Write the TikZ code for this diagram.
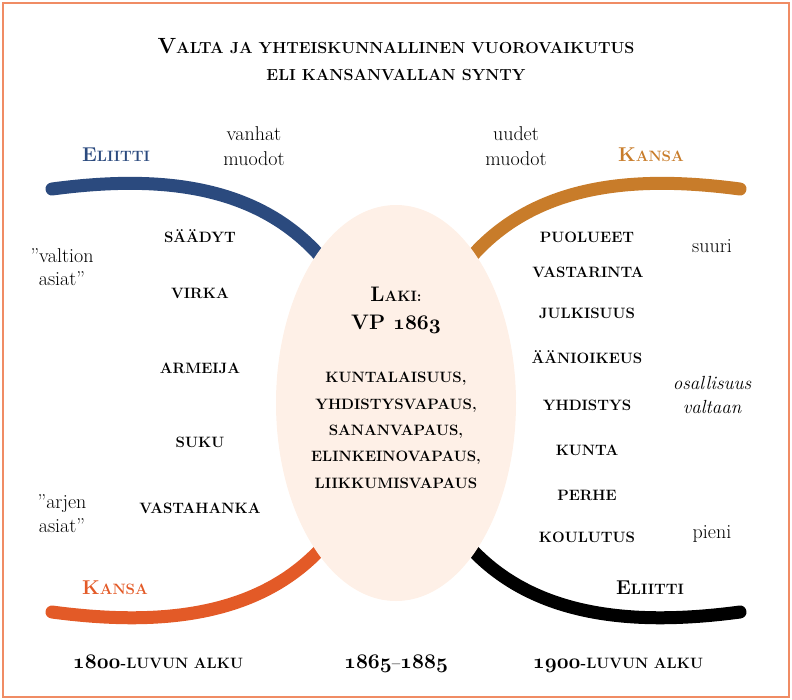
\documentclass[tikz,border=0pt]{standalone}
\usepackage{fontspec}
\usetikzlibrary{shapes.geometric, backgrounds, calc}

\definecolor{FrameColor}{RGB}{240,140,100}
\definecolor{EliittiBlue}{RGB}{43,74,126}
\definecolor{KansaOchre}{RGB}{200,124,42}
\definecolor{KansaRed}{RGB}{227,90,39}
\definecolor{LakiFill}{RGB}{254,240,231}

% fake bold small caps: capitals at the current size, spaced out
\newcommand\fakesc[1]{{\addfontfeature{LetterSpace=6}\MakeUppercase{#1}}}
\newcommand\initcap[3]{{\fontsize{#1}{#1}\selectfont\addfontfeature{LetterSpace=6}#2}\fakesc{#3}}
% bold old style figures
\newcommand\osnum[2]{{\fontsize{#1}{#1}\usefont{OML}{cmm}{b}{it}#2}}

\begin{document}
\begin{tikzpicture}[x = 1pt, y = -1pt]
\tikzstyle{TitleStyle}=[
anchor = base,
inner sep = 0pt,
font = \bfseries\fontsize{16}{19}\selectfont]
\tikzstyle{ItemStyle}=[
anchor = base,
inner sep = 0pt,
font = \bfseries\fontsize{15}{18}\selectfont]
\tikzstyle{GroupStyle}=[
anchor = base,
inner sep = 0pt,
font = \bfseries\fontsize{15}{18}\selectfont]
\tikzstyle{NoteStyle}=[
anchor = base,
inner sep = 0pt,
font = \fontsize{20}{24}\selectfont]
\tikzstyle{ArcStyle}=[
line width = 13pt,
line cap = round]

\useasboundingbox (0,0) rectangle (792,699);
\draw[FrameColor, line width = 1.5pt] (3,3) rectangle (789,697);

% title
\node[TitleStyle] (title) at (396,53) {\initcap{22}{V}{alta ja yhteiskunnallinen vuorovaikutus}};
\node[TitleStyle] (subtitle) at (396,80) {\fakesc{eli kansanvallan synty}};

% the law in the middle
\node[ellipse, fill = LakiFill, minimum width = 240pt, minimum height = 396pt, inner sep = 0pt] (laki) at (396,403) {};

\coordinate (eliittiTop) at (52,189);
\coordinate (kansaTop) at (740,189);
\coordinate (kansaBottom) at (52,612);
\coordinate (eliittiBottom) at (740,612);
\coordinate (eliittiTopEnd) at ($(laki.117)!9pt!(laki.center)$);
\coordinate (kansaTopEnd) at ($(laki.63)!9pt!(laki.center)$);
\coordinate (kansaBottomEnd) at ($(laki.243)!9pt!(laki.center)$);
\coordinate (eliittiBottomEnd) at ($(laki.297)!9pt!(laki.center)$);

\begin{pgfonlayer}{background}
\draw[ArcStyle, EliittiBlue] (eliittiTop) .. controls (150,176) and (255,180) .. (eliittiTopEnd);
\draw[ArcStyle, KansaOchre] (kansaTop) .. controls (642,176) and (537,180) .. (kansaTopEnd);
\draw[ArcStyle, KansaRed] (kansaBottom) .. controls (150,625) and (255,621) .. (kansaBottomEnd);
\draw[ArcStyle, black] (eliittiBottom) .. controls (642,625) and (537,621) .. (eliittiBottomEnd);
\end{pgfonlayer}

\node[TitleStyle, font = \bfseries\fontsize{15}{18}\selectfont] (lakiHead) at (396,301) {\initcap{21}{L}{aki:}};
\node[TitleStyle, font = \bfseries\fontsize{21}{24}\selectfont] (lakiYear) at (396,329) {VP \osnum{22}{1863}};
\node[ItemStyle] (lakiA) at (396,382) {\fakesc{kuntalaisuus,}};
\node[ItemStyle] (lakiB) at (396,409) {\fakesc{yhdistysvapaus,}};
\node[ItemStyle] (lakiC) at (396,435) {\fakesc{sananvapaus,}};
\node[ItemStyle] (lakiD) at (396,461) {\fakesc{elinkeinovapaus,}};
\node[ItemStyle] (lakiE) at (396,488) {\fakesc{liikkumisvapaus}};

% groups
\node[GroupStyle, EliittiBlue] (eliittiTopLabel) at (116,161) {\initcap{20}{E}{liitti}};
\node[GroupStyle, KansaOchre] (kansaTopLabel) at (651,161) {\initcap{20}{K}{ansa}};
\node[GroupStyle, KansaRed] (kansaBottomLabel) at (115,594) {\initcap{20}{K}{ansa}};
\node[GroupStyle] (eliittiBottomLabel) at (650,594) {\initcap{20}{E}{liitti}};

% notes
\node[NoteStyle] (vanhatA) at (254,140) {vanhat};
\node[NoteStyle] (vanhatB) at (254,165) {muodot};
\node[NoteStyle] (uudetA) at (516,140) {uudet};
\node[NoteStyle] (uudetB) at (516,165) {muodot};
\node[NoteStyle] (valtionA) at (62,262) {”valtion};
\node[NoteStyle] (valtionB) at (62,285) {asiat”};
\node[NoteStyle] (arjenA) at (62,508) {”arjen};
\node[NoteStyle] (arjenB) at (62,532) {asiat”};
\node[NoteStyle] (suuri) at (712,252) {suuri};
\node[NoteStyle, font = \itshape\fontsize{19}{23}\selectfont] (osallisuusA) at (712,389) {osallisuus};
\node[NoteStyle, font = \itshape\fontsize{19}{23}\selectfont] (osallisuusB) at (712,413) {valtaan};
\node[NoteStyle] (pieni) at (712,538) {pieni};

% old forms
\node[ItemStyle] (saadyt) at (200,242) {\fakesc{säädyt}};
\node[ItemStyle] (virka) at (200,298) {\fakesc{virka}};
\node[ItemStyle] (armeija) at (200,373) {\fakesc{armeija}};
\node[ItemStyle] (suku) at (200,447) {\fakesc{suku}};
\node[ItemStyle] (vastahanka) at (200,513) {\fakesc{vastahanka}};

% new forms
\node[ItemStyle] (puolueet) at (587,242) {\fakesc{puolueet}};
\node[ItemStyle] (vastarinta) at (588,277) {\fakesc{vastarinta}};
\node[ItemStyle] (julkisuus) at (587,318) {\fakesc{julkisuus}};
\node[ItemStyle] (aanioikeus) at (587,363) {\fakesc{äänioikeus}};
\node[ItemStyle] (yhdistys) at (587,410) {\fakesc{yhdistys}};
\node[ItemStyle] (kunta) at (587,455) {\fakesc{kunta}};
\node[ItemStyle] (perhe) at (587,500) {\fakesc{perhe}};
\node[ItemStyle] (koulutus) at (587,542) {\fakesc{koulutus}};

% periods
\node[ItemStyle] (alkuLeft) at (158,668) {\osnum{21}{1800}\fakesc{-luvun alku}};
\node[ItemStyle] (period) at (396,668) {\osnum{21}{1865}--\osnum{21}{1885}};
\node[ItemStyle] (alkuRight) at (618,668) {\osnum{21}{1900}\fakesc{-luvun alku}};
\end{tikzpicture}
\end{document}
